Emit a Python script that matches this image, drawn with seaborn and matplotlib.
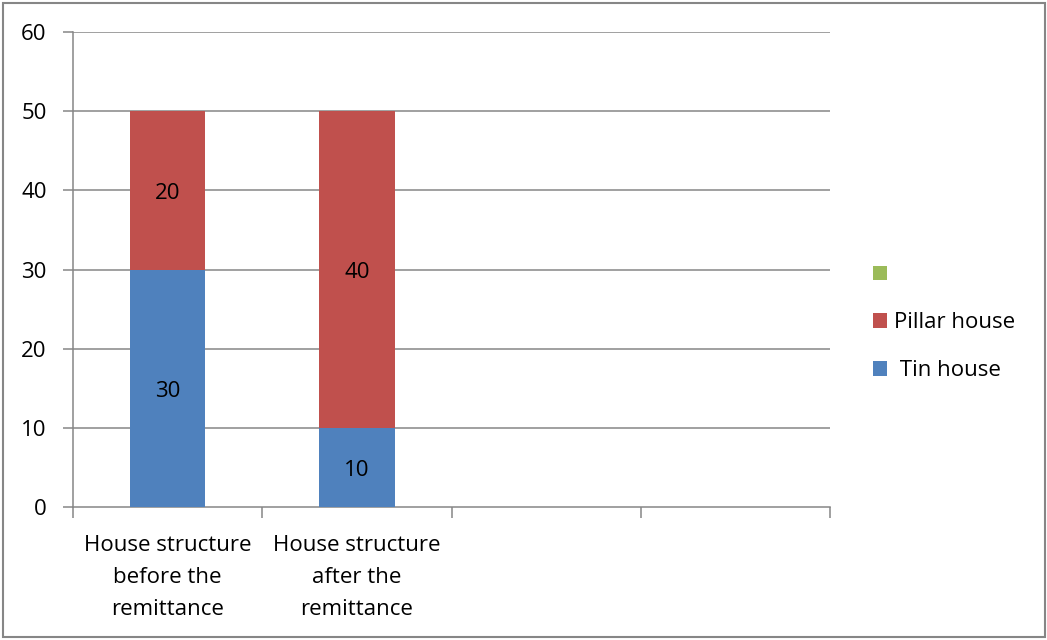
import numpy as np
import pandas as pd
import matplotlib
matplotlib.use("Agg")
import matplotlib.pyplot as plt
from matplotlib.patches import Patch, Rectangle
import seaborn as sns

# Chart data
categories = ["House structure\nbefore the\nremittance",
              "House structure\nafter the\nremittance",
              "", " "]
tin_house = [30, 10, np.nan, np.nan]
pillar_house = [20, 40, np.nan, np.nan]
series_names = ["", "Pillar house", " Tin house"]
colors = ["#9BBB59", "#C0504D", "#4F81BD"]
y_ticks = [0, 10, 20, 30, 40, 50, 60]

sns.set_theme(style="white")
plt.rcParams["font.family"] = ["Open Sans", "DejaVu Sans"]
plt.rcParams["text.color"] = "black"
FS = 16

df = pd.DataFrame({"category": categories,
                   "tin": tin_house,
                   "pillar": pillar_house})
df["total"] = df["tin"] + df["pillar"]

fig = plt.figure(figsize=(10.47, 6.4), dpi=100)
ax = fig.add_axes([73 / 1047, 133 / 640, (830 - 73) / 1047, (507 - 32) / 640])

grid_c = "#868686"
for y in y_ticks[1:]:
    ax.axhline(y, color=grid_c, lw=1.1, zorder=0)

# Stacked bars: total drawn in red, lower segment in blue on top
sns.barplot(data=df, x="category", y="total", order=categories,
            color=colors[1], saturation=1, width=0.4, ax=ax, zorder=2, linewidth=0)
sns.barplot(data=df, x="category", y="tin", order=categories,
            color=colors[2], saturation=1, width=0.4, ax=ax, zorder=3, linewidth=0)

# Segment value labels, centred in each segment
for i, (t, p) in enumerate(zip(tin_house, pillar_house)):
    if not np.isnan(t):
        ax.annotate(f"{t:g}", (i, t / 2), xytext=(0, -2.5), textcoords="offset points",
                    ha="center", va="center", fontsize=FS, color="black", zorder=4)
    if not np.isnan(p):
        ax.annotate(f"{p:g}", (i, t + p / 2), xytext=(0, -2.5), textcoords="offset points",
                    ha="center", va="center", fontsize=FS, color="black", zorder=4)

ax.set_xlim(-0.5, len(categories) - 0.5)
ax.set_ylim(0, 60)
ax.set_yticks(y_ticks)
ax.set_yticklabels([str(v) for v in y_ticks], fontsize=FS, color="black")
ax.set_xlabel("")
ax.set_ylabel("")
ax.set_xticks(range(len(categories)))
ax.set_xticklabels(categories, fontsize=FS, linespacing=1.68, color="black")
ax.set_xticks(np.arange(-0.5, len(categories)), minor=True)
ax.tick_params(axis="x", which="major", length=0, pad=20)
ax.tick_params(axis="x", which="minor", length=8, width=1.1, color=grid_c, direction="out", bottom=True)
ax.tick_params(axis="y", length=7, width=1.1, color=grid_c, direction="out", left=True, pad=12)

for s in ["top", "right"]:
    ax.spines[s].set_visible(False)
for s in ["left", "bottom"]:
    ax.spines[s].set_color(grid_c)
    ax.spines[s].set_linewidth(1.1)

handles = [Patch(facecolor=c, edgecolor="none") for c in colors]
fig.legend(handles, series_names, loc="center left",
           bbox_to_anchor=(853 / 1047, 1 - 323 / 640), frameon=False,
           fontsize=FS, handlelength=0.65, handleheight=0.65,
           handletextpad=0.3, labelspacing=1.2)

fig.patches.append(Rectangle((0.003, 0.004), 0.995, 0.992, transform=fig.transFigure,
                             fill=False, edgecolor=grid_c, lw=1.5))

fig.savefig("out.png", dpi=100, facecolor="white")
